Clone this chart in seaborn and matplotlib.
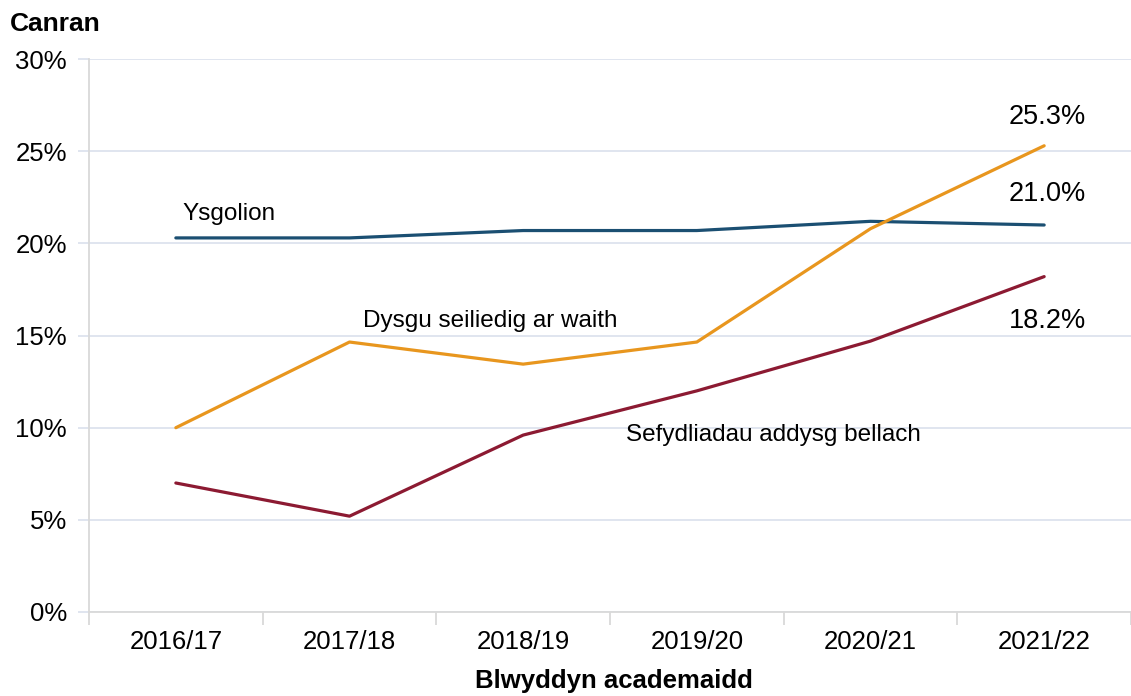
import pandas as pd
import matplotlib.pyplot as plt
import seaborn as sns
from matplotlib.ticker import FuncFormatter, MultipleLocator, FixedLocator

# Data
years = ['2016/17', '2017/18', '2018/19', '2019/20', '2020/21', '2021/22']
ysgolion = [20.3, 20.3, 20.7, 20.7, 21.2, 21.0]
dysgu = [10.0, 14.65, 13.45, 14.65, 20.8, 25.3]
sefydliadau = [7.0, 5.2, 9.6, 12.0, 14.7, 18.2]

series_names = ['Ysgolion', 'Dysgu seiliedig ar waith', 'Sefydliadau addysg bellach']
colors = ['#1b4f72', '#e8961e', '#8c1a32']

df = pd.DataFrame({'year': years, 'Ysgolion': ysgolion,
                   'Dysgu seiliedig ar waith': dysgu,
                   'Sefydliadau addysg bellach': sefydliadau})
df_long = df.melt(id_vars='year', var_name='series', value_name='value')

sns.set_style("white")
plt.rcParams['font.family'] = ['Liberation Sans', 'DejaVu Sans']
plt.rcParams['text.color'] = 'black'
plt.rcParams['xtick.color'] = 'black'
plt.rcParams['ytick.color'] = 'black'
plt.rcParams['axes.labelcolor'] = 'black'

fig = plt.figure(figsize=(11.31, 6.96), dpi=100)
ax = fig.add_axes([0.0787, 0.1207, 0.9213, 0.7943])

sns.lineplot(data=df_long, x='year', y='value', hue='series', hue_order=series_names,
             palette=colors, linewidth=2.3, legend=False, ax=ax, sort=False)

ax.set_xlim(-0.5, 5.5)
ax.set_ylim(0, 30)
ax.yaxis.set_major_locator(MultipleLocator(5))
ax.yaxis.set_major_formatter(FuncFormatter(lambda v, p: f'{v:.0f}%'))
ax.grid(axis='y', color='#dde3ee', linewidth=1.3)
ax.grid(axis='x', visible=False)

for s in ['top', 'right']:
    ax.spines[s].set_visible(False)
ax.spines['left'].set_color('#d9d9d9')
ax.spines['bottom'].set_color('#d9d9d9')
ax.spines['left'].set_linewidth(1.3)
ax.spines['bottom'].set_linewidth(1.3)

# x tick marks between categories, labels at centres
ax.xaxis.set_minor_locator(FixedLocator([i - 0.5 for i in range(len(years) + 1)]))
ax.tick_params(axis='x', which='major', bottom=False, length=0, labelsize=18.5, pad=13)
ax.tick_params(axis='x', which='minor', bottom=True, length=9, color='#d9d9d9', width=1.3)
ax.tick_params(axis='y', left=True, length=8, color='#dde3ee', width=1.3,
               labelcolor='black', labelsize=18.5, pad=8)

ax.set_xlabel('')
ax.set_ylabel('')
fig.text(0.543, 0.022, 'Blwyddyn academaidd', fontsize=18.5, fontweight='bold',
         va='center', ha='center')
fig.text(0.009, 0.966, 'Canran', fontsize=19, fontweight='bold', va='center', ha='left')

# series labels
ax.text(0.04, 21.6, 'Ysgolion', fontsize=17.5, va='center', ha='left')
ax.text(1.08, 15.8, 'Dysgu seiliedig ar waith', fontsize=17.5, va='center', ha='left')
ax.text(2.59, 9.6, 'Sefydliadau addysg bellach', fontsize=17.5, va='center', ha='left')

# end value labels
ax.text(5.02, 26.85, f'{dysgu[-1]:.1f}%', fontsize=19.5, va='center', ha='center')
ax.text(5.02, 22.7, f'{ysgolion[-1]:.1f}%', fontsize=19.5, va='center', ha='center')
ax.text(5.02, 15.8, f'{sefydliadau[-1]:.1f}%', fontsize=19.5, va='center', ha='center')

plt.savefig('out.png', dpi=100)
plt.close()
